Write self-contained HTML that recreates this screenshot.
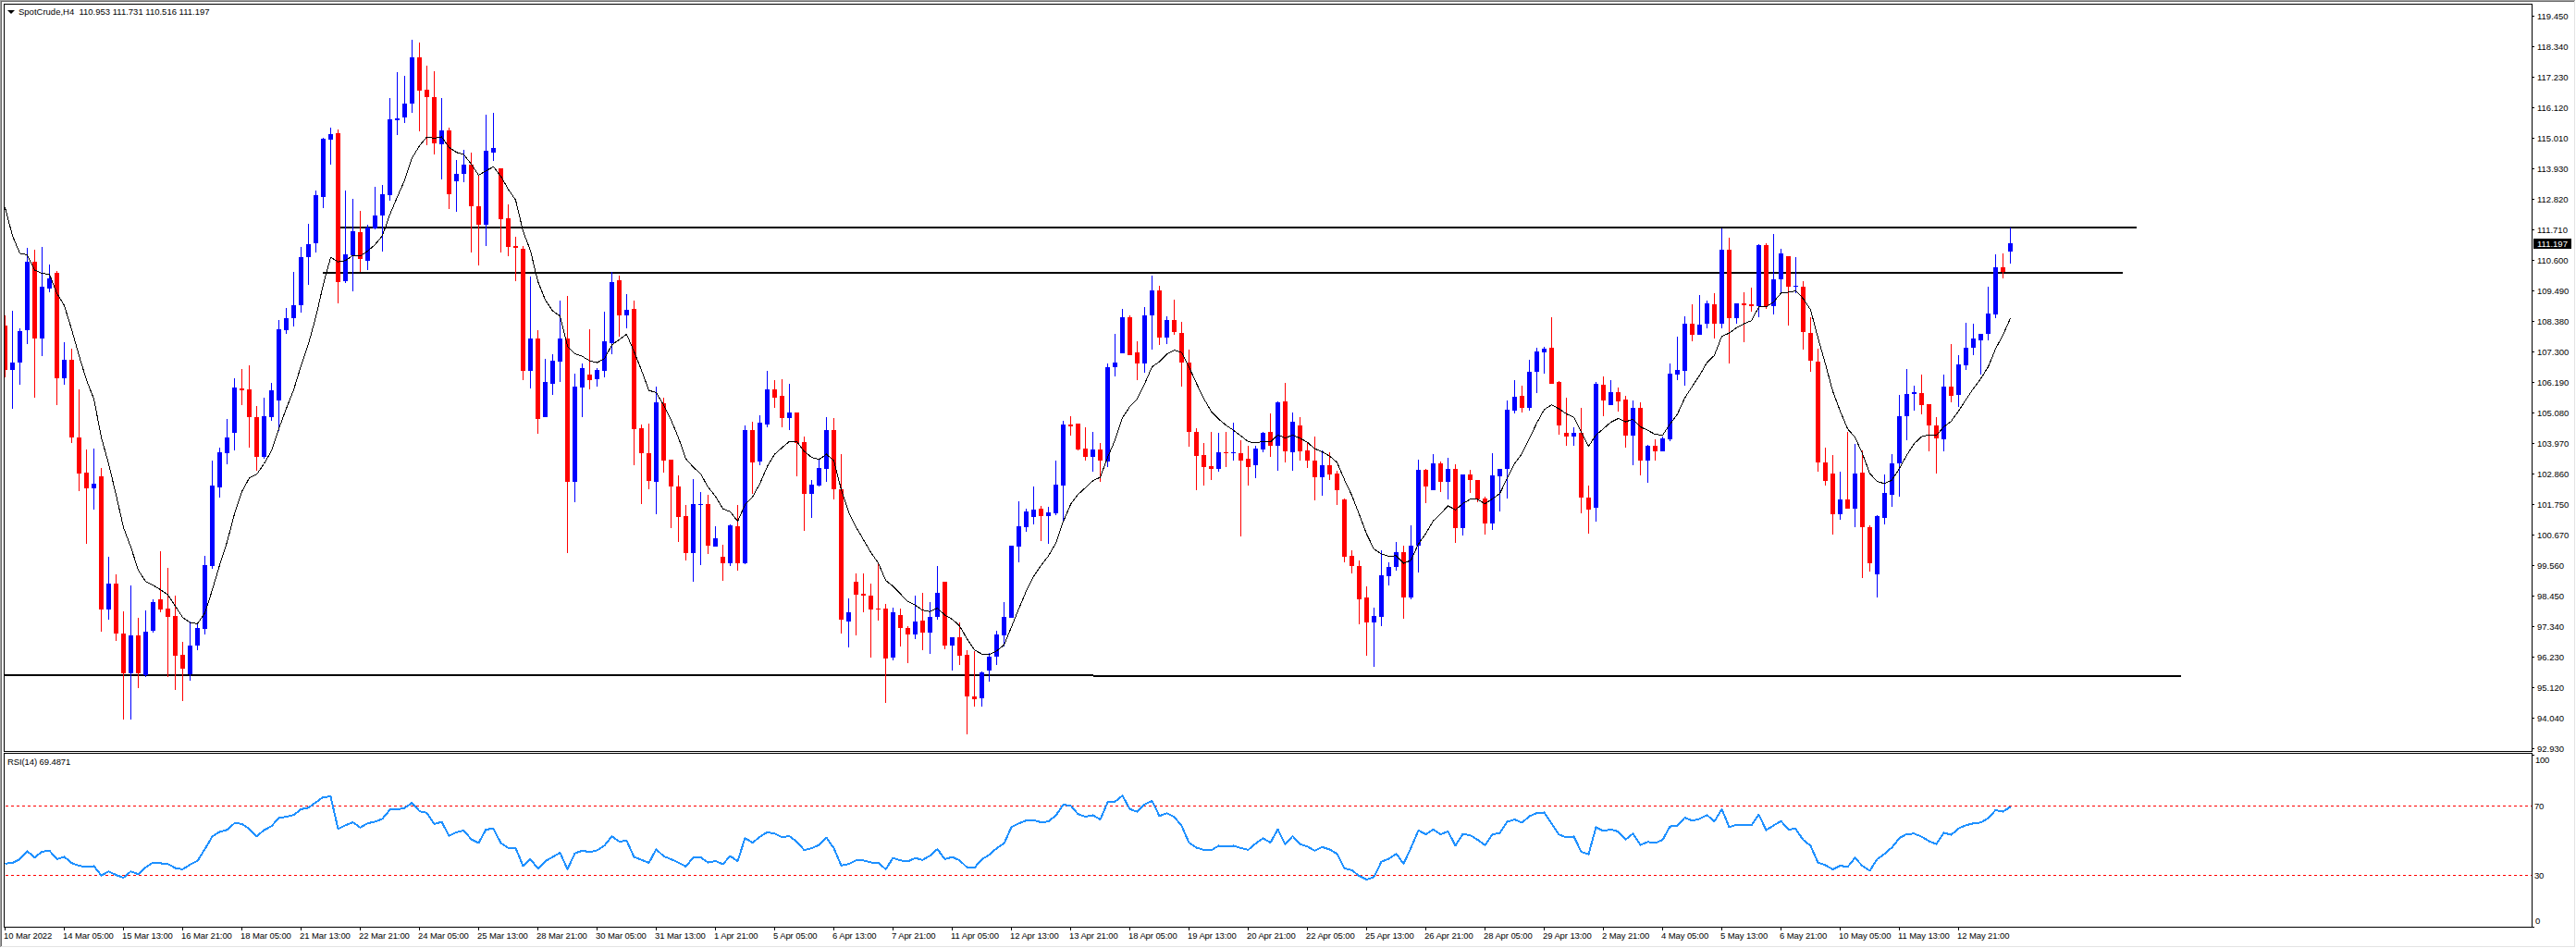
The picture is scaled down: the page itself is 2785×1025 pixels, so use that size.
<!DOCTYPE html>
<html><head><meta charset="utf-8"><style>
html,body{margin:0;padding:0;background:#fff;}
body{width:2785px;height:1025px;position:relative;overflow:hidden;}
svg{position:absolute;left:0;top:0;}
.t{position:absolute;font-family:"Liberation Sans",sans-serif;line-height:0;white-space:nowrap;color:#000;}
.tri{position:absolute;left:8px;top:11px;width:0;height:0;border-left:4px solid transparent;border-right:4px solid transparent;border-top:4px solid #000;}
</style></head><body>
<svg width="2785" height="1025" shape-rendering="crispEdges">
<rect x="0" y="0" width="2784" height="1" fill="#a0a0a0"/>
<rect x="0" y="0" width="1" height="1024" fill="#a0a0a0"/>
<rect x="1" y="1" width="2782" height="1" fill="#696969"/>
<rect x="1" y="1" width="1" height="1022" fill="#696969"/>
<rect x="2783" y="1" width="1" height="1023" fill="#e3e3e3"/>
<rect x="1" y="1023" width="2783" height="1" fill="#e3e3e3"/>
<rect x="4" y="4" width="2734" height="1" fill="#000"/>
<rect x="4" y="812" width="2734" height="1" fill="#000"/>
<rect x="4" y="4" width="1" height="809" fill="#000"/>
<rect x="2737" y="4" width="1" height="809" fill="#000"/>
<rect x="4" y="814" width="2734" height="1" fill="#000"/>
<rect x="4" y="1002" width="2734" height="1" fill="#000"/>
<rect x="4" y="814" width="1" height="189" fill="#000"/>
<rect x="2737" y="814" width="1" height="189" fill="#000"/>
<rect x="2738" y="17" width="2" height="1" fill="#000"/>
<rect x="2738" y="50" width="2" height="1" fill="#000"/>
<rect x="2738" y="83" width="2" height="1" fill="#000"/>
<rect x="2738" y="116" width="2" height="1" fill="#000"/>
<rect x="2738" y="149" width="2" height="1" fill="#000"/>
<rect x="2738" y="182" width="2" height="1" fill="#000"/>
<rect x="2738" y="215" width="2" height="1" fill="#000"/>
<rect x="2738" y="248" width="2" height="1" fill="#000"/>
<rect x="2738" y="281" width="2" height="1" fill="#000"/>
<rect x="2738" y="314" width="2" height="1" fill="#000"/>
<rect x="2738" y="347" width="2" height="1" fill="#000"/>
<rect x="2738" y="380" width="2" height="1" fill="#000"/>
<rect x="2738" y="413" width="2" height="1" fill="#000"/>
<rect x="2738" y="446" width="2" height="1" fill="#000"/>
<rect x="2738" y="479" width="2" height="1" fill="#000"/>
<rect x="2738" y="512" width="2" height="1" fill="#000"/>
<rect x="2738" y="545" width="2" height="1" fill="#000"/>
<rect x="2738" y="578" width="2" height="1" fill="#000"/>
<rect x="2738" y="611" width="2" height="1" fill="#000"/>
<rect x="2738" y="644" width="2" height="1" fill="#000"/>
<rect x="2738" y="677" width="2" height="1" fill="#000"/>
<rect x="2738" y="710" width="2" height="1" fill="#000"/>
<rect x="2738" y="743" width="2" height="1" fill="#000"/>
<rect x="2738" y="776" width="2" height="1" fill="#000"/>
<rect x="2738" y="809" width="2" height="1" fill="#000"/>
<rect x="2738" y="816" width="2" height="1" fill="#000"/>
<rect x="2738" y="1002" width="2" height="1" fill="#000"/>
<rect x="5" y="1003" width="1" height="3" fill="#000"/>
<rect x="69" y="1003" width="1" height="3" fill="#000"/>
<rect x="133" y="1003" width="1" height="3" fill="#000"/>
<rect x="197" y="1003" width="1" height="3" fill="#000"/>
<rect x="261" y="1003" width="1" height="3" fill="#000"/>
<rect x="325" y="1003" width="1" height="3" fill="#000"/>
<rect x="389" y="1003" width="1" height="3" fill="#000"/>
<rect x="453" y="1003" width="1" height="3" fill="#000"/>
<rect x="517" y="1003" width="1" height="3" fill="#000"/>
<rect x="581" y="1003" width="1" height="3" fill="#000"/>
<rect x="645" y="1003" width="1" height="3" fill="#000"/>
<rect x="709" y="1003" width="1" height="3" fill="#000"/>
<rect x="773" y="1003" width="1" height="3" fill="#000"/>
<rect x="837" y="1003" width="1" height="3" fill="#000"/>
<rect x="901" y="1003" width="1" height="3" fill="#000"/>
<rect x="965" y="1003" width="1" height="3" fill="#000"/>
<rect x="1029" y="1003" width="1" height="3" fill="#000"/>
<rect x="1093" y="1003" width="1" height="3" fill="#000"/>
<rect x="1157" y="1003" width="1" height="3" fill="#000"/>
<rect x="1221" y="1003" width="1" height="3" fill="#000"/>
<rect x="1285" y="1003" width="1" height="3" fill="#000"/>
<rect x="1349" y="1003" width="1" height="3" fill="#000"/>
<rect x="1413" y="1003" width="1" height="3" fill="#000"/>
<rect x="1477" y="1003" width="1" height="3" fill="#000"/>
<rect x="1541" y="1003" width="1" height="3" fill="#000"/>
<rect x="1605" y="1003" width="1" height="3" fill="#000"/>
<rect x="1669" y="1003" width="1" height="3" fill="#000"/>
<rect x="1733" y="1003" width="1" height="3" fill="#000"/>
<rect x="1797" y="1003" width="1" height="3" fill="#000"/>
<rect x="1861" y="1003" width="1" height="3" fill="#000"/>
<rect x="1925" y="1003" width="1" height="3" fill="#000"/>
<rect x="1989" y="1003" width="1" height="3" fill="#000"/>
<rect x="2053" y="1003" width="1" height="3" fill="#000"/>
<rect x="2117" y="1003" width="1" height="3" fill="#000"/>
<line x1="6" y1="871.5" x2="2737" y2="871.5" stroke="#f00" stroke-width="1" stroke-dasharray="3 3"/>
<line x1="6" y1="946.5" x2="2737" y2="946.5" stroke="#f00" stroke-width="1" stroke-dasharray="3 3"/>
<rect x="364" y="245" width="1946" height="2" fill="#000"/>
<rect x="349" y="294" width="1946" height="2" fill="#000"/>
<rect x="5" y="729" width="1177" height="2" fill="#000"/>
<rect x="1182" y="730" width="1176" height="2" fill="#000"/>
<rect x="5" y="341" width="1" height="11" fill="#f00"/>
<rect x="5" y="400" width="1" height="8" fill="#f00"/>
<rect x="5" y="352" width="3" height="48" fill="#f00"/>
<rect x="13" y="336" width="1" height="56" fill="#00f"/>
<rect x="13" y="400" width="1" height="42" fill="#00f"/>
<rect x="11" y="392" width="5" height="8" fill="#00f"/>
<rect x="21" y="355" width="1" height="3" fill="#00f"/>
<rect x="21" y="392" width="1" height="24" fill="#00f"/>
<rect x="19" y="358" width="5" height="34" fill="#00f"/>
<rect x="29" y="268" width="1" height="15" fill="#00f"/>
<rect x="29" y="357" width="1" height="15" fill="#00f"/>
<rect x="27" y="283" width="5" height="74" fill="#00f"/>
<rect x="37" y="270" width="1" height="13" fill="#f00"/>
<rect x="37" y="366" width="1" height="64" fill="#f00"/>
<rect x="35" y="283" width="5" height="83" fill="#f00"/>
<rect x="45" y="267" width="1" height="43" fill="#00f"/>
<rect x="45" y="366" width="1" height="19" fill="#00f"/>
<rect x="43" y="310" width="5" height="56" fill="#00f"/>
<rect x="53" y="286" width="1" height="15" fill="#00f"/>
<rect x="53" y="312" width="1" height="4" fill="#00f"/>
<rect x="51" y="301" width="5" height="11" fill="#00f"/>
<rect x="61" y="293" width="1" height="2" fill="#f00"/>
<rect x="61" y="409" width="1" height="29" fill="#f00"/>
<rect x="59" y="295" width="5" height="114" fill="#f00"/>
<rect x="69" y="370" width="1" height="19" fill="#00f"/>
<rect x="69" y="409" width="1" height="7" fill="#00f"/>
<rect x="67" y="389" width="5" height="20" fill="#00f"/>
<rect x="77" y="377" width="1" height="12" fill="#f00"/>
<rect x="77" y="473" width="1" height="6" fill="#f00"/>
<rect x="75" y="389" width="5" height="84" fill="#f00"/>
<rect x="85" y="421" width="1" height="52" fill="#f00"/>
<rect x="85" y="512" width="1" height="19" fill="#f00"/>
<rect x="83" y="473" width="5" height="39" fill="#f00"/>
<rect x="93" y="486" width="1" height="25" fill="#f00"/>
<rect x="93" y="528" width="1" height="60" fill="#f00"/>
<rect x="91" y="511" width="5" height="17" fill="#f00"/>
<rect x="101" y="485" width="1" height="38" fill="#00f"/>
<rect x="101" y="528" width="1" height="23" fill="#00f"/>
<rect x="99" y="523" width="5" height="5" fill="#00f"/>
<rect x="109" y="506" width="1" height="9" fill="#f00"/>
<rect x="109" y="659" width="1" height="24" fill="#f00"/>
<rect x="107" y="515" width="5" height="144" fill="#f00"/>
<rect x="117" y="602" width="1" height="29" fill="#00f"/>
<rect x="117" y="659" width="1" height="11" fill="#00f"/>
<rect x="115" y="631" width="5" height="28" fill="#00f"/>
<rect x="125" y="621" width="1" height="10" fill="#f00"/>
<rect x="125" y="685" width="1" height="8" fill="#f00"/>
<rect x="123" y="631" width="5" height="54" fill="#f00"/>
<rect x="133" y="661" width="1" height="24" fill="#f00"/>
<rect x="133" y="728" width="1" height="50" fill="#f00"/>
<rect x="131" y="685" width="5" height="43" fill="#f00"/>
<rect x="141" y="633" width="1" height="54" fill="#00f"/>
<rect x="141" y="728" width="1" height="50" fill="#00f"/>
<rect x="139" y="687" width="5" height="41" fill="#00f"/>
<rect x="149" y="668" width="1" height="19" fill="#f00"/>
<rect x="149" y="728" width="1" height="16" fill="#f00"/>
<rect x="147" y="687" width="5" height="41" fill="#f00"/>
<rect x="157" y="660" width="1" height="23" fill="#00f"/>
<rect x="157" y="730" width="1" height="2" fill="#00f"/>
<rect x="155" y="683" width="5" height="47" fill="#00f"/>
<rect x="165" y="648" width="1" height="3" fill="#00f"/>
<rect x="165" y="682" width="1" height="2" fill="#00f"/>
<rect x="163" y="651" width="5" height="31" fill="#00f"/>
<rect x="173" y="596" width="1" height="52" fill="#f00"/>
<rect x="173" y="659" width="1" height="3" fill="#f00"/>
<rect x="171" y="648" width="5" height="11" fill="#f00"/>
<rect x="181" y="614" width="1" height="44" fill="#f00"/>
<rect x="181" y="667" width="1" height="65" fill="#f00"/>
<rect x="179" y="658" width="5" height="9" fill="#f00"/>
<rect x="189" y="644" width="1" height="22" fill="#f00"/>
<rect x="189" y="709" width="1" height="37" fill="#f00"/>
<rect x="187" y="666" width="5" height="43" fill="#f00"/>
<rect x="197" y="694" width="1" height="14" fill="#f00"/>
<rect x="197" y="723" width="1" height="35" fill="#f00"/>
<rect x="195" y="708" width="5" height="15" fill="#f00"/>
<rect x="205" y="672" width="1" height="26" fill="#00f"/>
<rect x="205" y="729" width="1" height="7" fill="#00f"/>
<rect x="203" y="698" width="5" height="31" fill="#00f"/>
<rect x="213" y="673" width="1" height="6" fill="#00f"/>
<rect x="213" y="698" width="1" height="5" fill="#00f"/>
<rect x="211" y="679" width="5" height="19" fill="#00f"/>
<rect x="221" y="601" width="1" height="10" fill="#00f"/>
<rect x="221" y="680" width="1" height="6" fill="#00f"/>
<rect x="219" y="611" width="5" height="69" fill="#00f"/>
<rect x="229" y="498" width="1" height="27" fill="#00f"/>
<rect x="229" y="612" width="1" height="3" fill="#00f"/>
<rect x="227" y="525" width="5" height="87" fill="#00f"/>
<rect x="237" y="484" width="1" height="5" fill="#00f"/>
<rect x="237" y="527" width="1" height="11" fill="#00f"/>
<rect x="235" y="489" width="5" height="38" fill="#00f"/>
<rect x="245" y="453" width="1" height="20" fill="#00f"/>
<rect x="245" y="490" width="1" height="12" fill="#00f"/>
<rect x="243" y="473" width="5" height="17" fill="#00f"/>
<rect x="253" y="409" width="1" height="10" fill="#00f"/>
<rect x="253" y="468" width="1" height="19" fill="#00f"/>
<rect x="251" y="419" width="5" height="49" fill="#00f"/>
<rect x="261" y="399" width="1" height="21" fill="#f00"/>
<rect x="261" y="422" width="1" height="16" fill="#f00"/>
<rect x="259" y="420" width="5" height="2" fill="#f00"/>
<rect x="269" y="395" width="1" height="26" fill="#f00"/>
<rect x="269" y="451" width="1" height="33" fill="#f00"/>
<rect x="267" y="421" width="5" height="30" fill="#f00"/>
<rect x="277" y="439" width="1" height="12" fill="#f00"/>
<rect x="277" y="494" width="1" height="15" fill="#f00"/>
<rect x="275" y="451" width="5" height="43" fill="#f00"/>
<rect x="285" y="430" width="1" height="20" fill="#00f"/>
<rect x="285" y="494" width="1" height="2" fill="#00f"/>
<rect x="283" y="450" width="5" height="44" fill="#00f"/>
<rect x="293" y="414" width="1" height="8" fill="#00f"/>
<rect x="293" y="451" width="1" height="4" fill="#00f"/>
<rect x="291" y="422" width="5" height="29" fill="#00f"/>
<rect x="301" y="346" width="1" height="10" fill="#00f"/>
<rect x="301" y="433" width="1" height="33" fill="#00f"/>
<rect x="299" y="356" width="5" height="77" fill="#00f"/>
<rect x="309" y="333" width="1" height="11" fill="#00f"/>
<rect x="309" y="357" width="1" height="4" fill="#00f"/>
<rect x="307" y="344" width="5" height="13" fill="#00f"/>
<rect x="317" y="294" width="1" height="36" fill="#00f"/>
<rect x="317" y="344" width="1" height="9" fill="#00f"/>
<rect x="315" y="330" width="5" height="14" fill="#00f"/>
<rect x="325" y="267" width="1" height="11" fill="#00f"/>
<rect x="325" y="330" width="1" height="8" fill="#00f"/>
<rect x="323" y="278" width="5" height="52" fill="#00f"/>
<rect x="333" y="242" width="1" height="22" fill="#00f"/>
<rect x="333" y="278" width="1" height="30" fill="#00f"/>
<rect x="331" y="264" width="5" height="14" fill="#00f"/>
<rect x="341" y="206" width="1" height="5" fill="#00f"/>
<rect x="341" y="263" width="1" height="10" fill="#00f"/>
<rect x="339" y="211" width="5" height="52" fill="#00f"/>
<rect x="349" y="149" width="1" height="1" fill="#00f"/>
<rect x="349" y="213" width="1" height="12" fill="#00f"/>
<rect x="347" y="150" width="5" height="63" fill="#00f"/>
<rect x="357" y="138" width="1" height="7" fill="#00f"/>
<rect x="357" y="151" width="1" height="27" fill="#00f"/>
<rect x="355" y="145" width="5" height="6" fill="#00f"/>
<rect x="365" y="140" width="1" height="4" fill="#f00"/>
<rect x="365" y="305" width="1" height="23" fill="#f00"/>
<rect x="363" y="144" width="5" height="161" fill="#f00"/>
<rect x="373" y="206" width="1" height="69" fill="#00f"/>
<rect x="373" y="304" width="1" height="2" fill="#00f"/>
<rect x="371" y="275" width="5" height="29" fill="#00f"/>
<rect x="381" y="215" width="1" height="35" fill="#00f"/>
<rect x="381" y="276" width="1" height="39" fill="#00f"/>
<rect x="379" y="250" width="5" height="26" fill="#00f"/>
<rect x="389" y="228" width="1" height="23" fill="#f00"/>
<rect x="389" y="280" width="1" height="14" fill="#f00"/>
<rect x="387" y="251" width="5" height="29" fill="#f00"/>
<rect x="397" y="243" width="1" height="3" fill="#00f"/>
<rect x="397" y="282" width="1" height="10" fill="#00f"/>
<rect x="395" y="246" width="5" height="36" fill="#00f"/>
<rect x="405" y="202" width="1" height="31" fill="#00f"/>
<rect x="405" y="247" width="1" height="1" fill="#00f"/>
<rect x="403" y="233" width="5" height="14" fill="#00f"/>
<rect x="413" y="200" width="1" height="10" fill="#00f"/>
<rect x="413" y="233" width="1" height="39" fill="#00f"/>
<rect x="411" y="210" width="5" height="23" fill="#00f"/>
<rect x="421" y="106" width="1" height="23" fill="#00f"/>
<rect x="421" y="211" width="1" height="6" fill="#00f"/>
<rect x="419" y="129" width="5" height="82" fill="#00f"/>
<rect x="429" y="78" width="1" height="50" fill="#00f"/>
<rect x="429" y="130" width="1" height="16" fill="#00f"/>
<rect x="427" y="128" width="5" height="2" fill="#00f"/>
<rect x="437" y="82" width="1" height="30" fill="#00f"/>
<rect x="437" y="127" width="1" height="6" fill="#00f"/>
<rect x="435" y="112" width="5" height="15" fill="#00f"/>
<rect x="445" y="43" width="1" height="19" fill="#00f"/>
<rect x="445" y="112" width="1" height="10" fill="#00f"/>
<rect x="443" y="62" width="5" height="50" fill="#00f"/>
<rect x="453" y="46" width="1" height="16" fill="#f00"/>
<rect x="453" y="98" width="1" height="44" fill="#f00"/>
<rect x="451" y="62" width="5" height="36" fill="#f00"/>
<rect x="461" y="71" width="1" height="26" fill="#f00"/>
<rect x="461" y="105" width="1" height="52" fill="#f00"/>
<rect x="459" y="97" width="5" height="8" fill="#f00"/>
<rect x="469" y="77" width="1" height="28" fill="#f00"/>
<rect x="469" y="155" width="1" height="12" fill="#f00"/>
<rect x="467" y="105" width="5" height="50" fill="#f00"/>
<rect x="477" y="106" width="1" height="35" fill="#00f"/>
<rect x="477" y="156" width="1" height="38" fill="#00f"/>
<rect x="475" y="141" width="5" height="15" fill="#00f"/>
<rect x="485" y="138" width="1" height="3" fill="#f00"/>
<rect x="485" y="210" width="1" height="16" fill="#f00"/>
<rect x="483" y="141" width="5" height="69" fill="#f00"/>
<rect x="493" y="173" width="1" height="15" fill="#00f"/>
<rect x="493" y="196" width="1" height="33" fill="#00f"/>
<rect x="491" y="188" width="5" height="8" fill="#00f"/>
<rect x="501" y="162" width="1" height="16" fill="#00f"/>
<rect x="501" y="188" width="1" height="9" fill="#00f"/>
<rect x="499" y="178" width="5" height="10" fill="#00f"/>
<rect x="509" y="165" width="1" height="13" fill="#f00"/>
<rect x="509" y="223" width="1" height="50" fill="#f00"/>
<rect x="507" y="178" width="5" height="45" fill="#f00"/>
<rect x="517" y="189" width="1" height="34" fill="#f00"/>
<rect x="517" y="243" width="1" height="44" fill="#f00"/>
<rect x="515" y="223" width="5" height="20" fill="#f00"/>
<rect x="525" y="124" width="1" height="39" fill="#00f"/>
<rect x="525" y="243" width="1" height="23" fill="#00f"/>
<rect x="523" y="163" width="5" height="80" fill="#00f"/>
<rect x="533" y="122" width="1" height="38" fill="#00f"/>
<rect x="533" y="165" width="1" height="9" fill="#00f"/>
<rect x="531" y="160" width="5" height="5" fill="#00f"/>
<rect x="541" y="237" width="1" height="36" fill="#f00"/>
<rect x="539" y="182" width="5" height="55" fill="#f00"/>
<rect x="549" y="221" width="1" height="15" fill="#f00"/>
<rect x="549" y="267" width="1" height="10" fill="#f00"/>
<rect x="547" y="236" width="5" height="31" fill="#f00"/>
<rect x="557" y="256" width="1" height="10" fill="#f00"/>
<rect x="557" y="268" width="1" height="36" fill="#f00"/>
<rect x="555" y="266" width="5" height="2" fill="#f00"/>
<rect x="565" y="266" width="1" height="3" fill="#f00"/>
<rect x="565" y="401" width="1" height="10" fill="#f00"/>
<rect x="563" y="269" width="5" height="132" fill="#f00"/>
<rect x="573" y="299" width="1" height="67" fill="#00f"/>
<rect x="573" y="401" width="1" height="19" fill="#00f"/>
<rect x="571" y="366" width="5" height="35" fill="#00f"/>
<rect x="581" y="357" width="1" height="9" fill="#f00"/>
<rect x="581" y="453" width="1" height="16" fill="#f00"/>
<rect x="579" y="366" width="5" height="87" fill="#f00"/>
<rect x="589" y="388" width="1" height="25" fill="#00f"/>
<rect x="587" y="413" width="5" height="38" fill="#00f"/>
<rect x="597" y="383" width="1" height="7" fill="#00f"/>
<rect x="597" y="415" width="1" height="12" fill="#00f"/>
<rect x="595" y="390" width="5" height="25" fill="#00f"/>
<rect x="605" y="325" width="1" height="41" fill="#00f"/>
<rect x="605" y="391" width="1" height="22" fill="#00f"/>
<rect x="603" y="366" width="5" height="25" fill="#00f"/>
<rect x="613" y="320" width="1" height="46" fill="#f00"/>
<rect x="613" y="521" width="1" height="77" fill="#f00"/>
<rect x="611" y="366" width="5" height="155" fill="#f00"/>
<rect x="621" y="404" width="1" height="14" fill="#00f"/>
<rect x="621" y="521" width="1" height="22" fill="#00f"/>
<rect x="619" y="418" width="5" height="103" fill="#00f"/>
<rect x="629" y="393" width="1" height="5" fill="#00f"/>
<rect x="629" y="419" width="1" height="32" fill="#00f"/>
<rect x="627" y="398" width="5" height="21" fill="#00f"/>
<rect x="637" y="356" width="1" height="49" fill="#f00"/>
<rect x="637" y="411" width="1" height="10" fill="#f00"/>
<rect x="635" y="405" width="5" height="6" fill="#f00"/>
<rect x="645" y="398" width="1" height="2" fill="#00f"/>
<rect x="645" y="410" width="1" height="8" fill="#00f"/>
<rect x="643" y="400" width="5" height="10" fill="#00f"/>
<rect x="653" y="337" width="1" height="32" fill="#00f"/>
<rect x="653" y="401" width="1" height="7" fill="#00f"/>
<rect x="651" y="369" width="5" height="32" fill="#00f"/>
<rect x="661" y="294" width="1" height="11" fill="#00f"/>
<rect x="661" y="371" width="1" height="12" fill="#00f"/>
<rect x="659" y="305" width="5" height="66" fill="#00f"/>
<rect x="669" y="298" width="1" height="5" fill="#f00"/>
<rect x="669" y="341" width="1" height="23" fill="#f00"/>
<rect x="667" y="303" width="5" height="38" fill="#f00"/>
<rect x="677" y="318" width="1" height="17" fill="#00f"/>
<rect x="677" y="341" width="1" height="14" fill="#00f"/>
<rect x="675" y="335" width="5" height="6" fill="#00f"/>
<rect x="685" y="325" width="1" height="9" fill="#f00"/>
<rect x="685" y="464" width="1" height="39" fill="#f00"/>
<rect x="683" y="334" width="5" height="130" fill="#f00"/>
<rect x="693" y="459" width="1" height="4" fill="#f00"/>
<rect x="693" y="490" width="1" height="55" fill="#f00"/>
<rect x="691" y="463" width="5" height="27" fill="#f00"/>
<rect x="701" y="458" width="1" height="32" fill="#f00"/>
<rect x="701" y="520" width="1" height="9" fill="#f00"/>
<rect x="699" y="490" width="5" height="30" fill="#f00"/>
<rect x="709" y="418" width="1" height="17" fill="#00f"/>
<rect x="709" y="521" width="1" height="35" fill="#00f"/>
<rect x="707" y="435" width="5" height="86" fill="#00f"/>
<rect x="717" y="430" width="1" height="6" fill="#f00"/>
<rect x="717" y="498" width="1" height="13" fill="#f00"/>
<rect x="715" y="436" width="5" height="62" fill="#f00"/>
<rect x="725" y="526" width="1" height="45" fill="#f00"/>
<rect x="723" y="497" width="5" height="29" fill="#f00"/>
<rect x="733" y="514" width="1" height="12" fill="#f00"/>
<rect x="733" y="559" width="1" height="27" fill="#f00"/>
<rect x="731" y="526" width="5" height="33" fill="#f00"/>
<rect x="741" y="546" width="1" height="12" fill="#f00"/>
<rect x="741" y="598" width="1" height="8" fill="#f00"/>
<rect x="739" y="558" width="5" height="40" fill="#f00"/>
<rect x="749" y="518" width="1" height="27" fill="#00f"/>
<rect x="749" y="598" width="1" height="31" fill="#00f"/>
<rect x="747" y="545" width="5" height="53" fill="#00f"/>
<rect x="757" y="532" width="1" height="13" fill="#00f"/>
<rect x="757" y="546" width="1" height="65" fill="#00f"/>
<rect x="755" y="545" width="5" height="1" fill="#00f"/>
<rect x="765" y="535" width="1" height="10" fill="#f00"/>
<rect x="765" y="590" width="1" height="9" fill="#f00"/>
<rect x="763" y="545" width="5" height="45" fill="#f00"/>
<rect x="773" y="569" width="1" height="13" fill="#00f"/>
<rect x="771" y="582" width="5" height="9" fill="#00f"/>
<rect x="781" y="589" width="1" height="13" fill="#f00"/>
<rect x="781" y="609" width="1" height="19" fill="#f00"/>
<rect x="779" y="602" width="5" height="7" fill="#f00"/>
<rect x="789" y="567" width="1" height="1" fill="#00f"/>
<rect x="789" y="609" width="1" height="3" fill="#00f"/>
<rect x="787" y="568" width="5" height="41" fill="#00f"/>
<rect x="797" y="546" width="1" height="23" fill="#f00"/>
<rect x="797" y="609" width="1" height="8" fill="#f00"/>
<rect x="795" y="569" width="5" height="40" fill="#f00"/>
<rect x="805" y="460" width="1" height="5" fill="#00f"/>
<rect x="805" y="609" width="1" height="1" fill="#00f"/>
<rect x="803" y="465" width="5" height="144" fill="#00f"/>
<rect x="813" y="456" width="1" height="9" fill="#f00"/>
<rect x="813" y="500" width="1" height="34" fill="#f00"/>
<rect x="811" y="465" width="5" height="35" fill="#f00"/>
<rect x="821" y="449" width="1" height="8" fill="#00f"/>
<rect x="821" y="499" width="1" height="4" fill="#00f"/>
<rect x="819" y="457" width="5" height="42" fill="#00f"/>
<rect x="829" y="401" width="1" height="20" fill="#00f"/>
<rect x="829" y="459" width="1" height="3" fill="#00f"/>
<rect x="827" y="421" width="5" height="38" fill="#00f"/>
<rect x="837" y="411" width="1" height="10" fill="#f00"/>
<rect x="837" y="430" width="1" height="11" fill="#f00"/>
<rect x="835" y="421" width="5" height="9" fill="#f00"/>
<rect x="845" y="410" width="1" height="18" fill="#f00"/>
<rect x="845" y="452" width="1" height="10" fill="#f00"/>
<rect x="843" y="428" width="5" height="24" fill="#f00"/>
<rect x="853" y="415" width="1" height="31" fill="#00f"/>
<rect x="853" y="452" width="1" height="13" fill="#00f"/>
<rect x="851" y="446" width="5" height="6" fill="#00f"/>
<rect x="861" y="479" width="1" height="36" fill="#f00"/>
<rect x="859" y="446" width="5" height="33" fill="#f00"/>
<rect x="869" y="472" width="1" height="6" fill="#f00"/>
<rect x="869" y="534" width="1" height="40" fill="#f00"/>
<rect x="867" y="478" width="5" height="56" fill="#f00"/>
<rect x="877" y="519" width="1" height="5" fill="#00f"/>
<rect x="877" y="534" width="1" height="26" fill="#00f"/>
<rect x="875" y="524" width="5" height="10" fill="#00f"/>
<rect x="885" y="496" width="1" height="10" fill="#00f"/>
<rect x="885" y="525" width="1" height="1" fill="#00f"/>
<rect x="883" y="506" width="5" height="19" fill="#00f"/>
<rect x="893" y="451" width="1" height="14" fill="#00f"/>
<rect x="893" y="507" width="1" height="14" fill="#00f"/>
<rect x="891" y="465" width="5" height="42" fill="#00f"/>
<rect x="901" y="452" width="1" height="13" fill="#f00"/>
<rect x="901" y="529" width="1" height="11" fill="#f00"/>
<rect x="899" y="465" width="5" height="64" fill="#f00"/>
<rect x="909" y="491" width="1" height="38" fill="#f00"/>
<rect x="909" y="670" width="1" height="15" fill="#f00"/>
<rect x="907" y="529" width="5" height="141" fill="#f00"/>
<rect x="917" y="647" width="1" height="15" fill="#00f"/>
<rect x="917" y="672" width="1" height="28" fill="#00f"/>
<rect x="915" y="662" width="5" height="10" fill="#00f"/>
<rect x="925" y="620" width="1" height="9" fill="#f00"/>
<rect x="925" y="643" width="1" height="44" fill="#f00"/>
<rect x="923" y="629" width="5" height="14" fill="#f00"/>
<rect x="933" y="620" width="1" height="22" fill="#f00"/>
<rect x="933" y="644" width="1" height="18" fill="#f00"/>
<rect x="931" y="642" width="5" height="2" fill="#f00"/>
<rect x="941" y="631" width="1" height="13" fill="#f00"/>
<rect x="941" y="659" width="1" height="52" fill="#f00"/>
<rect x="939" y="644" width="5" height="15" fill="#f00"/>
<rect x="949" y="610" width="1" height="48" fill="#f00"/>
<rect x="949" y="659" width="1" height="12" fill="#f00"/>
<rect x="947" y="658" width="5" height="1" fill="#f00"/>
<rect x="957" y="653" width="1" height="5" fill="#f00"/>
<rect x="957" y="712" width="1" height="48" fill="#f00"/>
<rect x="955" y="658" width="5" height="54" fill="#f00"/>
<rect x="965" y="657" width="1" height="5" fill="#00f"/>
<rect x="965" y="711" width="1" height="3" fill="#00f"/>
<rect x="963" y="662" width="5" height="49" fill="#00f"/>
<rect x="973" y="658" width="1" height="7" fill="#f00"/>
<rect x="973" y="679" width="1" height="20" fill="#f00"/>
<rect x="971" y="665" width="5" height="14" fill="#f00"/>
<rect x="981" y="677" width="1" height="2" fill="#f00"/>
<rect x="981" y="686" width="1" height="31" fill="#f00"/>
<rect x="979" y="679" width="5" height="7" fill="#f00"/>
<rect x="989" y="644" width="1" height="28" fill="#00f"/>
<rect x="989" y="686" width="1" height="5" fill="#00f"/>
<rect x="987" y="672" width="5" height="14" fill="#00f"/>
<rect x="997" y="641" width="1" height="30" fill="#f00"/>
<rect x="997" y="684" width="1" height="19" fill="#f00"/>
<rect x="995" y="671" width="5" height="13" fill="#f00"/>
<rect x="1005" y="651" width="1" height="16" fill="#00f"/>
<rect x="1005" y="684" width="1" height="23" fill="#00f"/>
<rect x="1003" y="667" width="5" height="17" fill="#00f"/>
<rect x="1013" y="612" width="1" height="29" fill="#00f"/>
<rect x="1013" y="667" width="1" height="3" fill="#00f"/>
<rect x="1011" y="641" width="5" height="26" fill="#00f"/>
<rect x="1021" y="698" width="1" height="4" fill="#f00"/>
<rect x="1019" y="629" width="5" height="69" fill="#f00"/>
<rect x="1029" y="698" width="1" height="27" fill="#00f"/>
<rect x="1027" y="689" width="5" height="9" fill="#00f"/>
<rect x="1037" y="673" width="1" height="16" fill="#f00"/>
<rect x="1037" y="709" width="1" height="10" fill="#f00"/>
<rect x="1035" y="689" width="5" height="20" fill="#f00"/>
<rect x="1045" y="703" width="1" height="5" fill="#f00"/>
<rect x="1045" y="753" width="1" height="41" fill="#f00"/>
<rect x="1043" y="708" width="5" height="45" fill="#f00"/>
<rect x="1053" y="704" width="1" height="49" fill="#f00"/>
<rect x="1053" y="756" width="1" height="8" fill="#f00"/>
<rect x="1051" y="753" width="5" height="3" fill="#f00"/>
<rect x="1061" y="726" width="1" height="1" fill="#00f"/>
<rect x="1061" y="755" width="1" height="9" fill="#00f"/>
<rect x="1059" y="727" width="5" height="28" fill="#00f"/>
<rect x="1069" y="706" width="1" height="4" fill="#00f"/>
<rect x="1069" y="725" width="1" height="12" fill="#00f"/>
<rect x="1067" y="710" width="5" height="15" fill="#00f"/>
<rect x="1077" y="682" width="1" height="4" fill="#00f"/>
<rect x="1077" y="710" width="1" height="9" fill="#00f"/>
<rect x="1075" y="686" width="5" height="24" fill="#00f"/>
<rect x="1085" y="651" width="1" height="16" fill="#00f"/>
<rect x="1085" y="687" width="1" height="12" fill="#00f"/>
<rect x="1083" y="667" width="5" height="20" fill="#00f"/>
<rect x="1091" y="590" width="5" height="78" fill="#00f"/>
<rect x="1101" y="542" width="1" height="27" fill="#00f"/>
<rect x="1101" y="591" width="1" height="17" fill="#00f"/>
<rect x="1099" y="569" width="5" height="22" fill="#00f"/>
<rect x="1109" y="550" width="1" height="3" fill="#00f"/>
<rect x="1109" y="570" width="1" height="5" fill="#00f"/>
<rect x="1107" y="553" width="5" height="17" fill="#00f"/>
<rect x="1117" y="526" width="1" height="25" fill="#00f"/>
<rect x="1117" y="559" width="1" height="8" fill="#00f"/>
<rect x="1115" y="551" width="5" height="8" fill="#00f"/>
<rect x="1125" y="547" width="1" height="3" fill="#f00"/>
<rect x="1125" y="558" width="1" height="27" fill="#f00"/>
<rect x="1123" y="550" width="5" height="8" fill="#f00"/>
<rect x="1133" y="548" width="1" height="6" fill="#00f"/>
<rect x="1133" y="558" width="1" height="30" fill="#00f"/>
<rect x="1131" y="554" width="5" height="4" fill="#00f"/>
<rect x="1141" y="498" width="1" height="26" fill="#00f"/>
<rect x="1141" y="555" width="1" height="2" fill="#00f"/>
<rect x="1139" y="524" width="5" height="31" fill="#00f"/>
<rect x="1149" y="455" width="1" height="4" fill="#00f"/>
<rect x="1149" y="525" width="1" height="38" fill="#00f"/>
<rect x="1147" y="459" width="5" height="66" fill="#00f"/>
<rect x="1157" y="450" width="1" height="9" fill="#f00"/>
<rect x="1157" y="461" width="1" height="10" fill="#f00"/>
<rect x="1155" y="459" width="5" height="2" fill="#f00"/>
<rect x="1165" y="486" width="1" height="1" fill="#f00"/>
<rect x="1163" y="458" width="5" height="28" fill="#f00"/>
<rect x="1173" y="462" width="1" height="23" fill="#f00"/>
<rect x="1173" y="494" width="1" height="4" fill="#f00"/>
<rect x="1171" y="485" width="5" height="9" fill="#f00"/>
<rect x="1181" y="467" width="1" height="19" fill="#00f"/>
<rect x="1181" y="494" width="1" height="16" fill="#00f"/>
<rect x="1179" y="486" width="5" height="8" fill="#00f"/>
<rect x="1189" y="479" width="1" height="7" fill="#f00"/>
<rect x="1189" y="498" width="1" height="23" fill="#f00"/>
<rect x="1187" y="486" width="5" height="12" fill="#f00"/>
<rect x="1197" y="393" width="1" height="4" fill="#00f"/>
<rect x="1197" y="499" width="1" height="6" fill="#00f"/>
<rect x="1195" y="397" width="5" height="102" fill="#00f"/>
<rect x="1205" y="361" width="1" height="31" fill="#00f"/>
<rect x="1205" y="397" width="1" height="10" fill="#00f"/>
<rect x="1203" y="392" width="5" height="5" fill="#00f"/>
<rect x="1213" y="334" width="1" height="9" fill="#00f"/>
<rect x="1211" y="343" width="5" height="39" fill="#00f"/>
<rect x="1221" y="341" width="1" height="2" fill="#f00"/>
<rect x="1219" y="343" width="5" height="41" fill="#f00"/>
<rect x="1229" y="369" width="1" height="12" fill="#f00"/>
<rect x="1229" y="393" width="1" height="18" fill="#f00"/>
<rect x="1227" y="381" width="5" height="12" fill="#f00"/>
<rect x="1237" y="332" width="1" height="9" fill="#00f"/>
<rect x="1237" y="393" width="1" height="10" fill="#00f"/>
<rect x="1235" y="341" width="5" height="52" fill="#00f"/>
<rect x="1245" y="298" width="1" height="16" fill="#00f"/>
<rect x="1245" y="341" width="1" height="37" fill="#00f"/>
<rect x="1243" y="314" width="5" height="27" fill="#00f"/>
<rect x="1253" y="309" width="1" height="5" fill="#f00"/>
<rect x="1253" y="365" width="1" height="8" fill="#f00"/>
<rect x="1251" y="314" width="5" height="51" fill="#f00"/>
<rect x="1261" y="342" width="1" height="4" fill="#00f"/>
<rect x="1261" y="365" width="1" height="7" fill="#00f"/>
<rect x="1259" y="346" width="5" height="19" fill="#00f"/>
<rect x="1269" y="324" width="1" height="22" fill="#f00"/>
<rect x="1269" y="359" width="1" height="3" fill="#f00"/>
<rect x="1267" y="346" width="5" height="13" fill="#f00"/>
<rect x="1277" y="348" width="1" height="12" fill="#f00"/>
<rect x="1277" y="392" width="1" height="26" fill="#f00"/>
<rect x="1275" y="360" width="5" height="32" fill="#f00"/>
<rect x="1285" y="378" width="1" height="14" fill="#f00"/>
<rect x="1285" y="467" width="1" height="16" fill="#f00"/>
<rect x="1283" y="392" width="5" height="75" fill="#f00"/>
<rect x="1293" y="463" width="1" height="4" fill="#f00"/>
<rect x="1293" y="493" width="1" height="37" fill="#f00"/>
<rect x="1291" y="467" width="5" height="26" fill="#f00"/>
<rect x="1301" y="479" width="1" height="13" fill="#f00"/>
<rect x="1301" y="505" width="1" height="20" fill="#f00"/>
<rect x="1299" y="492" width="5" height="13" fill="#f00"/>
<rect x="1309" y="467" width="1" height="37" fill="#f00"/>
<rect x="1309" y="507" width="1" height="12" fill="#f00"/>
<rect x="1307" y="504" width="5" height="3" fill="#f00"/>
<rect x="1317" y="468" width="1" height="21" fill="#00f"/>
<rect x="1317" y="507" width="1" height="3" fill="#00f"/>
<rect x="1315" y="489" width="5" height="18" fill="#00f"/>
<rect x="1325" y="467" width="1" height="22" fill="#f00"/>
<rect x="1325" y="490" width="1" height="15" fill="#f00"/>
<rect x="1323" y="489" width="5" height="1" fill="#f00"/>
<rect x="1333" y="457" width="1" height="32" fill="#00f"/>
<rect x="1333" y="490" width="1" height="8" fill="#00f"/>
<rect x="1331" y="489" width="5" height="1" fill="#00f"/>
<rect x="1341" y="476" width="1" height="14" fill="#f00"/>
<rect x="1341" y="498" width="1" height="82" fill="#f00"/>
<rect x="1339" y="490" width="5" height="8" fill="#f00"/>
<rect x="1349" y="482" width="1" height="14" fill="#f00"/>
<rect x="1349" y="505" width="1" height="20" fill="#f00"/>
<rect x="1347" y="496" width="5" height="9" fill="#f00"/>
<rect x="1357" y="482" width="1" height="3" fill="#00f"/>
<rect x="1357" y="503" width="1" height="14" fill="#00f"/>
<rect x="1355" y="485" width="5" height="18" fill="#00f"/>
<rect x="1365" y="467" width="1" height="1" fill="#00f"/>
<rect x="1365" y="486" width="1" height="3" fill="#00f"/>
<rect x="1363" y="468" width="5" height="18" fill="#00f"/>
<rect x="1373" y="447" width="1" height="20" fill="#f00"/>
<rect x="1373" y="482" width="1" height="12" fill="#f00"/>
<rect x="1371" y="467" width="5" height="15" fill="#f00"/>
<rect x="1381" y="434" width="1" height="1" fill="#00f"/>
<rect x="1381" y="482" width="1" height="27" fill="#00f"/>
<rect x="1379" y="435" width="5" height="47" fill="#00f"/>
<rect x="1389" y="414" width="1" height="20" fill="#f00"/>
<rect x="1389" y="488" width="1" height="12" fill="#f00"/>
<rect x="1387" y="434" width="5" height="54" fill="#f00"/>
<rect x="1397" y="446" width="1" height="10" fill="#00f"/>
<rect x="1397" y="489" width="1" height="20" fill="#00f"/>
<rect x="1395" y="456" width="5" height="33" fill="#00f"/>
<rect x="1405" y="451" width="1" height="9" fill="#f00"/>
<rect x="1405" y="488" width="1" height="10" fill="#f00"/>
<rect x="1403" y="460" width="5" height="28" fill="#f00"/>
<rect x="1413" y="479" width="1" height="8" fill="#f00"/>
<rect x="1413" y="498" width="1" height="8" fill="#f00"/>
<rect x="1411" y="487" width="5" height="11" fill="#f00"/>
<rect x="1421" y="472" width="1" height="26" fill="#f00"/>
<rect x="1421" y="516" width="1" height="25" fill="#f00"/>
<rect x="1419" y="498" width="5" height="18" fill="#f00"/>
<rect x="1429" y="487" width="1" height="16" fill="#00f"/>
<rect x="1429" y="516" width="1" height="20" fill="#00f"/>
<rect x="1427" y="503" width="5" height="13" fill="#00f"/>
<rect x="1437" y="489" width="1" height="14" fill="#f00"/>
<rect x="1437" y="513" width="1" height="6" fill="#f00"/>
<rect x="1435" y="503" width="5" height="10" fill="#f00"/>
<rect x="1445" y="509" width="1" height="3" fill="#f00"/>
<rect x="1445" y="530" width="1" height="16" fill="#f00"/>
<rect x="1443" y="512" width="5" height="18" fill="#f00"/>
<rect x="1453" y="539" width="1" height="1" fill="#f00"/>
<rect x="1453" y="602" width="1" height="6" fill="#f00"/>
<rect x="1451" y="540" width="5" height="62" fill="#f00"/>
<rect x="1461" y="595" width="1" height="6" fill="#f00"/>
<rect x="1461" y="612" width="1" height="8" fill="#f00"/>
<rect x="1459" y="601" width="5" height="11" fill="#f00"/>
<rect x="1469" y="606" width="1" height="6" fill="#f00"/>
<rect x="1469" y="648" width="1" height="27" fill="#f00"/>
<rect x="1467" y="612" width="5" height="36" fill="#f00"/>
<rect x="1477" y="634" width="1" height="12" fill="#f00"/>
<rect x="1477" y="673" width="1" height="36" fill="#f00"/>
<rect x="1475" y="646" width="5" height="27" fill="#f00"/>
<rect x="1485" y="657" width="1" height="9" fill="#00f"/>
<rect x="1485" y="673" width="1" height="48" fill="#00f"/>
<rect x="1483" y="666" width="5" height="7" fill="#00f"/>
<rect x="1493" y="595" width="1" height="27" fill="#00f"/>
<rect x="1493" y="667" width="1" height="10" fill="#00f"/>
<rect x="1491" y="622" width="5" height="45" fill="#00f"/>
<rect x="1501" y="608" width="1" height="5" fill="#00f"/>
<rect x="1501" y="623" width="1" height="10" fill="#00f"/>
<rect x="1499" y="613" width="5" height="10" fill="#00f"/>
<rect x="1509" y="586" width="1" height="11" fill="#00f"/>
<rect x="1509" y="613" width="1" height="4" fill="#00f"/>
<rect x="1507" y="597" width="5" height="16" fill="#00f"/>
<rect x="1517" y="590" width="1" height="7" fill="#f00"/>
<rect x="1517" y="646" width="1" height="23" fill="#f00"/>
<rect x="1515" y="597" width="5" height="49" fill="#f00"/>
<rect x="1525" y="568" width="1" height="22" fill="#00f"/>
<rect x="1525" y="646" width="1" height="2" fill="#00f"/>
<rect x="1523" y="590" width="5" height="56" fill="#00f"/>
<rect x="1533" y="497" width="1" height="11" fill="#00f"/>
<rect x="1533" y="590" width="1" height="29" fill="#00f"/>
<rect x="1531" y="508" width="5" height="82" fill="#00f"/>
<rect x="1541" y="507" width="1" height="1" fill="#f00"/>
<rect x="1541" y="526" width="1" height="18" fill="#f00"/>
<rect x="1539" y="508" width="5" height="18" fill="#f00"/>
<rect x="1549" y="491" width="1" height="10" fill="#00f"/>
<rect x="1547" y="501" width="5" height="29" fill="#00f"/>
<rect x="1557" y="499" width="1" height="2" fill="#f00"/>
<rect x="1557" y="521" width="1" height="11" fill="#f00"/>
<rect x="1555" y="501" width="5" height="20" fill="#f00"/>
<rect x="1565" y="495" width="1" height="12" fill="#00f"/>
<rect x="1565" y="521" width="1" height="19" fill="#00f"/>
<rect x="1563" y="507" width="5" height="14" fill="#00f"/>
<rect x="1573" y="502" width="1" height="5" fill="#f00"/>
<rect x="1573" y="571" width="1" height="16" fill="#f00"/>
<rect x="1571" y="507" width="5" height="64" fill="#f00"/>
<rect x="1581" y="571" width="1" height="8" fill="#00f"/>
<rect x="1579" y="513" width="5" height="58" fill="#00f"/>
<rect x="1589" y="508" width="1" height="5" fill="#f00"/>
<rect x="1589" y="519" width="1" height="14" fill="#f00"/>
<rect x="1587" y="513" width="5" height="6" fill="#f00"/>
<rect x="1597" y="540" width="1" height="3" fill="#f00"/>
<rect x="1595" y="519" width="5" height="21" fill="#f00"/>
<rect x="1605" y="537" width="1" height="2" fill="#f00"/>
<rect x="1605" y="566" width="1" height="12" fill="#f00"/>
<rect x="1603" y="539" width="5" height="27" fill="#f00"/>
<rect x="1613" y="490" width="1" height="24" fill="#00f"/>
<rect x="1613" y="566" width="1" height="7" fill="#00f"/>
<rect x="1611" y="514" width="5" height="52" fill="#00f"/>
<rect x="1621" y="515" width="1" height="38" fill="#00f"/>
<rect x="1619" y="507" width="5" height="8" fill="#00f"/>
<rect x="1629" y="433" width="1" height="10" fill="#00f"/>
<rect x="1629" y="507" width="1" height="32" fill="#00f"/>
<rect x="1627" y="443" width="5" height="64" fill="#00f"/>
<rect x="1637" y="411" width="1" height="18" fill="#00f"/>
<rect x="1637" y="444" width="1" height="3" fill="#00f"/>
<rect x="1635" y="429" width="5" height="15" fill="#00f"/>
<rect x="1645" y="417" width="1" height="11" fill="#f00"/>
<rect x="1645" y="441" width="1" height="5" fill="#f00"/>
<rect x="1643" y="428" width="5" height="13" fill="#f00"/>
<rect x="1653" y="389" width="1" height="13" fill="#00f"/>
<rect x="1653" y="441" width="1" height="3" fill="#00f"/>
<rect x="1651" y="402" width="5" height="39" fill="#00f"/>
<rect x="1661" y="376" width="1" height="4" fill="#00f"/>
<rect x="1661" y="402" width="1" height="23" fill="#00f"/>
<rect x="1659" y="380" width="5" height="22" fill="#00f"/>
<rect x="1669" y="375" width="1" height="2" fill="#00f"/>
<rect x="1669" y="381" width="1" height="23" fill="#00f"/>
<rect x="1667" y="377" width="5" height="4" fill="#00f"/>
<rect x="1677" y="343" width="1" height="33" fill="#f00"/>
<rect x="1675" y="376" width="5" height="39" fill="#f00"/>
<rect x="1685" y="412" width="1" height="1" fill="#f00"/>
<rect x="1685" y="460" width="1" height="10" fill="#f00"/>
<rect x="1683" y="413" width="5" height="47" fill="#f00"/>
<rect x="1693" y="430" width="1" height="38" fill="#f00"/>
<rect x="1693" y="472" width="1" height="10" fill="#f00"/>
<rect x="1691" y="468" width="5" height="4" fill="#f00"/>
<rect x="1701" y="462" width="1" height="6" fill="#00f"/>
<rect x="1701" y="472" width="1" height="10" fill="#00f"/>
<rect x="1699" y="468" width="5" height="4" fill="#00f"/>
<rect x="1709" y="441" width="1" height="27" fill="#f00"/>
<rect x="1709" y="538" width="1" height="17" fill="#f00"/>
<rect x="1707" y="468" width="5" height="70" fill="#f00"/>
<rect x="1717" y="525" width="1" height="13" fill="#f00"/>
<rect x="1717" y="551" width="1" height="26" fill="#f00"/>
<rect x="1715" y="538" width="5" height="13" fill="#f00"/>
<rect x="1725" y="413" width="1" height="2" fill="#00f"/>
<rect x="1725" y="549" width="1" height="15" fill="#00f"/>
<rect x="1723" y="415" width="5" height="134" fill="#00f"/>
<rect x="1733" y="407" width="1" height="9" fill="#f00"/>
<rect x="1733" y="433" width="1" height="17" fill="#f00"/>
<rect x="1731" y="416" width="5" height="17" fill="#f00"/>
<rect x="1741" y="411" width="1" height="13" fill="#00f"/>
<rect x="1739" y="424" width="5" height="14" fill="#00f"/>
<rect x="1749" y="419" width="1" height="5" fill="#f00"/>
<rect x="1749" y="434" width="1" height="11" fill="#f00"/>
<rect x="1747" y="424" width="5" height="10" fill="#f00"/>
<rect x="1757" y="428" width="1" height="4" fill="#f00"/>
<rect x="1757" y="471" width="1" height="13" fill="#f00"/>
<rect x="1755" y="432" width="5" height="39" fill="#f00"/>
<rect x="1765" y="433" width="1" height="8" fill="#00f"/>
<rect x="1765" y="471" width="1" height="32" fill="#00f"/>
<rect x="1763" y="441" width="5" height="30" fill="#00f"/>
<rect x="1773" y="435" width="1" height="6" fill="#f00"/>
<rect x="1773" y="498" width="1" height="16" fill="#f00"/>
<rect x="1771" y="441" width="5" height="57" fill="#f00"/>
<rect x="1781" y="481" width="1" height="1" fill="#00f"/>
<rect x="1781" y="498" width="1" height="24" fill="#00f"/>
<rect x="1779" y="482" width="5" height="16" fill="#00f"/>
<rect x="1789" y="475" width="1" height="7" fill="#f00"/>
<rect x="1789" y="488" width="1" height="10" fill="#f00"/>
<rect x="1787" y="482" width="5" height="6" fill="#f00"/>
<rect x="1797" y="472" width="1" height="2" fill="#00f"/>
<rect x="1795" y="474" width="5" height="14" fill="#00f"/>
<rect x="1805" y="393" width="1" height="11" fill="#00f"/>
<rect x="1805" y="475" width="1" height="2" fill="#00f"/>
<rect x="1803" y="404" width="5" height="71" fill="#00f"/>
<rect x="1813" y="364" width="1" height="36" fill="#00f"/>
<rect x="1813" y="405" width="1" height="6" fill="#00f"/>
<rect x="1811" y="400" width="5" height="5" fill="#00f"/>
<rect x="1821" y="342" width="1" height="8" fill="#00f"/>
<rect x="1821" y="401" width="1" height="16" fill="#00f"/>
<rect x="1819" y="350" width="5" height="51" fill="#00f"/>
<rect x="1829" y="329" width="1" height="21" fill="#f00"/>
<rect x="1829" y="362" width="1" height="7" fill="#f00"/>
<rect x="1827" y="350" width="5" height="12" fill="#f00"/>
<rect x="1837" y="319" width="1" height="32" fill="#00f"/>
<rect x="1835" y="351" width="5" height="11" fill="#00f"/>
<rect x="1845" y="325" width="1" height="3" fill="#00f"/>
<rect x="1845" y="350" width="1" height="5" fill="#00f"/>
<rect x="1843" y="328" width="5" height="22" fill="#00f"/>
<rect x="1853" y="317" width="1" height="12" fill="#f00"/>
<rect x="1853" y="350" width="1" height="16" fill="#f00"/>
<rect x="1851" y="329" width="5" height="21" fill="#f00"/>
<rect x="1861" y="247" width="1" height="23" fill="#00f"/>
<rect x="1861" y="350" width="1" height="5" fill="#00f"/>
<rect x="1859" y="270" width="5" height="80" fill="#00f"/>
<rect x="1869" y="257" width="1" height="13" fill="#f00"/>
<rect x="1869" y="344" width="1" height="49" fill="#f00"/>
<rect x="1867" y="270" width="5" height="74" fill="#f00"/>
<rect x="1877" y="344" width="1" height="6" fill="#00f"/>
<rect x="1875" y="328" width="5" height="16" fill="#00f"/>
<rect x="1885" y="316" width="1" height="12" fill="#f00"/>
<rect x="1885" y="330" width="1" height="40" fill="#f00"/>
<rect x="1883" y="328" width="5" height="2" fill="#f00"/>
<rect x="1893" y="311" width="1" height="18" fill="#f00"/>
<rect x="1893" y="331" width="1" height="6" fill="#f00"/>
<rect x="1891" y="329" width="5" height="2" fill="#f00"/>
<rect x="1901" y="264" width="1" height="1" fill="#00f"/>
<rect x="1901" y="331" width="1" height="12" fill="#00f"/>
<rect x="1899" y="265" width="5" height="66" fill="#00f"/>
<rect x="1909" y="263" width="1" height="2" fill="#f00"/>
<rect x="1909" y="331" width="1" height="3" fill="#f00"/>
<rect x="1907" y="265" width="5" height="66" fill="#f00"/>
<rect x="1917" y="253" width="1" height="49" fill="#00f"/>
<rect x="1917" y="331" width="1" height="9" fill="#00f"/>
<rect x="1915" y="302" width="5" height="29" fill="#00f"/>
<rect x="1925" y="269" width="1" height="5" fill="#00f"/>
<rect x="1925" y="302" width="1" height="16" fill="#00f"/>
<rect x="1923" y="274" width="5" height="28" fill="#00f"/>
<rect x="1933" y="310" width="1" height="42" fill="#f00"/>
<rect x="1931" y="277" width="5" height="33" fill="#f00"/>
<rect x="1941" y="278" width="1" height="31" fill="#00f"/>
<rect x="1941" y="310" width="1" height="7" fill="#00f"/>
<rect x="1939" y="309" width="5" height="1" fill="#00f"/>
<rect x="1949" y="304" width="1" height="6" fill="#f00"/>
<rect x="1949" y="359" width="1" height="19" fill="#f00"/>
<rect x="1947" y="310" width="5" height="49" fill="#f00"/>
<rect x="1957" y="343" width="1" height="17" fill="#f00"/>
<rect x="1957" y="390" width="1" height="12" fill="#f00"/>
<rect x="1955" y="360" width="5" height="30" fill="#f00"/>
<rect x="1965" y="377" width="1" height="14" fill="#f00"/>
<rect x="1965" y="500" width="1" height="10" fill="#f00"/>
<rect x="1963" y="391" width="5" height="109" fill="#f00"/>
<rect x="1973" y="484" width="1" height="16" fill="#f00"/>
<rect x="1973" y="520" width="1" height="5" fill="#f00"/>
<rect x="1971" y="500" width="5" height="20" fill="#f00"/>
<rect x="1981" y="492" width="1" height="20" fill="#f00"/>
<rect x="1981" y="556" width="1" height="22" fill="#f00"/>
<rect x="1979" y="512" width="5" height="44" fill="#f00"/>
<rect x="1989" y="510" width="1" height="30" fill="#00f"/>
<rect x="1989" y="556" width="1" height="6" fill="#00f"/>
<rect x="1987" y="540" width="5" height="16" fill="#00f"/>
<rect x="1997" y="467" width="1" height="73" fill="#f00"/>
<rect x="1995" y="540" width="5" height="10" fill="#f00"/>
<rect x="2005" y="480" width="1" height="32" fill="#00f"/>
<rect x="2005" y="550" width="1" height="20" fill="#00f"/>
<rect x="2003" y="512" width="5" height="38" fill="#00f"/>
<rect x="2013" y="487" width="1" height="24" fill="#f00"/>
<rect x="2013" y="570" width="1" height="55" fill="#f00"/>
<rect x="2011" y="511" width="5" height="59" fill="#f00"/>
<rect x="2021" y="568" width="1" height="2" fill="#f00"/>
<rect x="2021" y="609" width="1" height="9" fill="#f00"/>
<rect x="2019" y="570" width="5" height="39" fill="#f00"/>
<rect x="2029" y="557" width="1" height="1" fill="#00f"/>
<rect x="2029" y="621" width="1" height="25" fill="#00f"/>
<rect x="2027" y="558" width="5" height="63" fill="#00f"/>
<rect x="2037" y="513" width="1" height="20" fill="#00f"/>
<rect x="2037" y="560" width="1" height="7" fill="#00f"/>
<rect x="2035" y="533" width="5" height="27" fill="#00f"/>
<rect x="2045" y="491" width="1" height="10" fill="#00f"/>
<rect x="2045" y="535" width="1" height="13" fill="#00f"/>
<rect x="2043" y="501" width="5" height="34" fill="#00f"/>
<rect x="2053" y="427" width="1" height="23" fill="#00f"/>
<rect x="2053" y="501" width="1" height="36" fill="#00f"/>
<rect x="2051" y="450" width="5" height="51" fill="#00f"/>
<rect x="2061" y="399" width="1" height="27" fill="#00f"/>
<rect x="2061" y="450" width="1" height="26" fill="#00f"/>
<rect x="2059" y="426" width="5" height="24" fill="#00f"/>
<rect x="2069" y="417" width="1" height="7" fill="#00f"/>
<rect x="2069" y="426" width="1" height="18" fill="#00f"/>
<rect x="2067" y="424" width="5" height="2" fill="#00f"/>
<rect x="2077" y="405" width="1" height="20" fill="#f00"/>
<rect x="2077" y="438" width="1" height="10" fill="#f00"/>
<rect x="2075" y="425" width="5" height="13" fill="#f00"/>
<rect x="2085" y="460" width="1" height="28" fill="#f00"/>
<rect x="2083" y="437" width="5" height="23" fill="#f00"/>
<rect x="2093" y="451" width="1" height="9" fill="#f00"/>
<rect x="2093" y="474" width="1" height="38" fill="#f00"/>
<rect x="2091" y="460" width="5" height="14" fill="#f00"/>
<rect x="2101" y="405" width="1" height="13" fill="#00f"/>
<rect x="2101" y="475" width="1" height="13" fill="#00f"/>
<rect x="2099" y="418" width="5" height="57" fill="#00f"/>
<rect x="2109" y="372" width="1" height="46" fill="#f00"/>
<rect x="2109" y="428" width="1" height="7" fill="#f00"/>
<rect x="2107" y="418" width="5" height="10" fill="#f00"/>
<rect x="2117" y="384" width="1" height="10" fill="#00f"/>
<rect x="2117" y="427" width="1" height="13" fill="#00f"/>
<rect x="2115" y="394" width="5" height="33" fill="#00f"/>
<rect x="2125" y="349" width="1" height="27" fill="#00f"/>
<rect x="2125" y="395" width="1" height="5" fill="#00f"/>
<rect x="2123" y="376" width="5" height="19" fill="#00f"/>
<rect x="2133" y="350" width="1" height="16" fill="#00f"/>
<rect x="2133" y="376" width="1" height="8" fill="#00f"/>
<rect x="2131" y="366" width="5" height="10" fill="#00f"/>
<rect x="2141" y="368" width="1" height="37" fill="#00f"/>
<rect x="2139" y="361" width="5" height="7" fill="#00f"/>
<rect x="2149" y="310" width="1" height="29" fill="#00f"/>
<rect x="2149" y="361" width="1" height="7" fill="#00f"/>
<rect x="2147" y="339" width="5" height="22" fill="#00f"/>
<rect x="2157" y="275" width="1" height="14" fill="#00f"/>
<rect x="2157" y="340" width="1" height="4" fill="#00f"/>
<rect x="2155" y="289" width="5" height="51" fill="#00f"/>
<rect x="2165" y="274" width="1" height="15" fill="#f00"/>
<rect x="2165" y="294" width="1" height="7" fill="#f00"/>
<rect x="2163" y="289" width="5" height="5" fill="#f00"/>
<rect x="2173" y="246" width="1" height="17" fill="#00f"/>
<rect x="2173" y="272" width="1" height="13" fill="#00f"/>
<rect x="2171" y="263" width="5" height="9" fill="#00f"/>
<polyline points="5.5,224.5 13.5,255.0 21.5,273.9 29.5,275.6 37.5,292.1 45.5,295.5 53.5,296.6 61.5,317.1 69.5,330.3 77.5,356.3 85.5,384.7 93.5,410.9 101.5,431.3 109.5,472.8 117.5,501.7 125.5,535.1 133.5,570.3 141.5,591.6 149.5,616.5 157.5,628.7 165.5,632.8 173.5,637.7 181.5,643.1 189.5,655.2 197.5,667.6 205.5,673.2 213.5,674.4 221.5,662.9 229.5,637.9 237.5,610.9 245.5,586.0 253.5,555.7 261.5,531.5 269.5,516.9 277.5,512.9 285.5,501.5 293.5,487.2 301.5,463.4 309.5,441.8 317.5,421.5 325.5,395.5 333.5,371.7 341.5,342.6 349.5,307.7 357.5,278.2 365.5,283.1 373.5,281.8 381.5,276.1 389.5,276.9 397.5,271.4 405.5,264.5 413.5,254.7 421.5,231.9 429.5,213.1 437.5,194.8 445.5,170.8 453.5,157.6 461.5,148.1 469.5,149.5 477.5,148.0 485.5,159.4 493.5,164.7 501.5,167.2 509.5,177.4 517.5,189.4 525.5,184.7 533.5,180.3 541.5,190.7 549.5,204.7 557.5,216.3 565.5,250.0 573.5,271.1 581.5,304.3 589.5,324.2 597.5,336.2 605.5,341.7 613.5,374.4 621.5,382.4 629.5,385.3 637.5,390.1 645.5,392.0 653.5,387.9 661.5,372.9 669.5,367.2 677.5,361.4 685.5,380.2 693.5,400.2 701.5,422.1 709.5,424.5 717.5,438.0 725.5,454.1 733.5,473.2 741.5,496.0 749.5,505.0 757.5,512.4 765.5,526.6 773.5,536.7 781.5,550.0 789.5,553.3 797.5,563.6 805.5,545.7 813.5,537.5 821.5,523.0 829.5,504.5 837.5,491.1 845.5,484.0 853.5,477.2 861.5,477.6 869.5,488.0 877.5,494.6 885.5,496.8 893.5,491.1 901.5,498.1 909.5,529.4 917.5,553.6 925.5,570.0 933.5,583.5 941.5,597.3 949.5,608.6 957.5,627.5 965.5,633.9 973.5,642.2 981.5,650.2 989.5,654.3 997.5,659.8 1005.5,661.2 1013.5,657.6 1021.5,665.0 1029.5,669.5 1037.5,676.8 1045.5,690.7 1053.5,702.7 1061.5,707.2 1069.5,707.8 1077.5,703.9 1085.5,697.3 1093.5,677.9 1101.5,658.2 1109.5,639.1 1117.5,623.2 1125.5,611.4 1133.5,601.1 1141.5,587.2 1149.5,564.0 1157.5,545.3 1165.5,534.6 1173.5,527.3 1181.5,519.9 1189.5,516.0 1197.5,494.5 1205.5,475.9 1213.5,451.9 1221.5,439.6 1229.5,431.2 1237.5,414.9 1245.5,396.7 1253.5,391.0 1261.5,382.9 1269.5,378.6 1277.5,381.2 1285.5,396.9 1293.5,414.4 1301.5,431.0 1309.5,444.9 1317.5,453.0 1325.5,459.8 1333.5,465.2 1341.5,471.3 1349.5,477.5 1357.5,479.0 1365.5,477.1 1373.5,478.0 1381.5,470.3 1389.5,473.6 1397.5,470.5 1405.5,473.8 1413.5,478.3 1421.5,485.2 1429.5,488.5 1437.5,493.1 1445.5,499.9 1453.5,518.5 1461.5,535.6 1469.5,556.1 1477.5,577.5 1485.5,593.7 1493.5,598.9 1501.5,601.6 1509.5,600.8 1517.5,609.1 1525.5,605.7 1533.5,588.1 1541.5,576.9 1549.5,563.2 1557.5,555.6 1565.5,546.8 1573.5,551.3 1581.5,544.5 1589.5,539.9 1597.5,540.0 1605.5,544.8 1613.5,539.3 1621.5,533.5 1629.5,517.2 1637.5,501.2 1645.5,490.4 1653.5,474.4 1661.5,457.3 1669.5,442.8 1677.5,437.8 1685.5,442.0 1693.5,447.5 1701.5,451.3 1709.5,467.2 1717.5,482.5 1725.5,470.3 1733.5,463.6 1741.5,456.5 1749.5,452.5 1757.5,456.0 1765.5,453.3 1773.5,461.5 1781.5,465.4 1789.5,469.6 1797.5,470.5 1805.5,458.5 1813.5,447.9 1821.5,430.2 1829.5,417.9 1837.5,405.8 1845.5,391.8 1853.5,384.3 1861.5,363.6 1869.5,360.1 1877.5,354.4 1885.5,350.0 1893.5,346.7 1901.5,331.9 1909.5,331.8 1917.5,326.5 1925.5,317.0 1933.5,315.9 1941.5,314.7 1949.5,322.8 1957.5,335.1 1965.5,365.2 1973.5,393.4 1981.5,423.1 1989.5,444.4 1997.5,463.7 2005.5,472.6 2013.5,490.4 2021.5,512.0 2029.5,520.5 2037.5,522.9 2045.5,519.0 2053.5,506.5 2061.5,492.0 2069.5,479.7 2077.5,472.2 2085.5,470.1 2093.5,470.9 2101.5,461.4 2109.5,455.4 2117.5,444.3 2125.5,432.0 2133.5,420.1 2141.5,409.4 2149.5,396.7 2157.5,377.2 2165.5,362.2 2173.5,344.2" fill="none" stroke="#000" stroke-width="1"/>
<polyline points="5.5,933.8 13.5,932.9 21.5,928.9 29.5,920.4 37.5,927.1 45.5,920.8 53.5,919.8 61.5,928.9 69.5,926.4 77.5,933.1 85.5,936.1 93.5,937.3 101.5,936.5 109.5,946.6 117.5,942.2 125.5,946.1 133.5,949.0 141.5,942.2 149.5,945.3 157.5,937.8 165.5,932.6 173.5,933.4 181.5,934.2 189.5,938.5 197.5,939.9 205.5,934.8 213.5,930.9 221.5,918.0 229.5,904.5 237.5,899.4 245.5,897.2 253.5,890.1 261.5,890.7 269.5,896.4 277.5,904.3 285.5,897.5 293.5,893.3 301.5,884.5 309.5,883.0 317.5,881.2 325.5,874.9 333.5,873.3 341.5,867.5 349.5,861.8 357.5,861.3 365.5,896.2 373.5,892.3 381.5,889.1 389.5,894.8 397.5,890.2 405.5,888.4 413.5,885.3 421.5,875.5 429.5,875.4 437.5,873.5 445.5,868.0 453.5,877.1 461.5,878.9 469.5,890.9 477.5,888.7 485.5,903.6 493.5,899.8 501.5,898.0 509.5,907.5 517.5,911.4 525.5,896.7 533.5,896.2 541.5,911.5 549.5,916.7 557.5,916.9 565.5,936.3 573.5,928.9 581.5,939.1 589.5,931.1 597.5,926.6 605.5,922.0 613.5,939.9 621.5,922.7 629.5,919.7 637.5,921.3 645.5,919.4 653.5,914.2 661.5,904.3 669.5,909.9 677.5,908.9 685.5,926.6 693.5,929.6 701.5,933.0 709.5,918.2 717.5,925.8 725.5,929.0 733.5,932.7 741.5,936.9 749.5,927.0 757.5,927.0 765.5,932.6 773.5,930.9 781.5,934.3 789.5,925.6 797.5,931.2 805.5,906.1 813.5,911.2 821.5,904.8 829.5,899.8 837.5,901.3 845.5,905.1 853.5,904.1 861.5,910.1 869.5,919.2 877.5,917.2 885.5,913.6 893.5,905.7 901.5,917.1 909.5,935.8 917.5,934.2 925.5,930.3 933.5,930.4 941.5,932.5 949.5,932.5 957.5,939.9 965.5,927.7 973.5,930.3 981.5,931.4 989.5,927.7 997.5,929.8 1005.5,925.1 1013.5,918.1 1021.5,929.0 1029.5,926.6 1037.5,930.3 1045.5,937.8 1053.5,938.3 1061.5,929.2 1069.5,924.2 1077.5,917.2 1085.5,912.0 1093.5,894.2 1101.5,890.2 1109.5,887.2 1117.5,886.8 1125.5,889.1 1133.5,888.2 1141.5,881.7 1149.5,870.2 1157.5,870.9 1165.5,880.2 1173.5,883.1 1181.5,881.4 1189.5,886.1 1197.5,867.5 1205.5,866.8 1213.5,860.2 1221.5,874.7 1229.5,877.7 1237.5,869.7 1245.5,866.0 1253.5,882.3 1261.5,879.2 1269.5,883.2 1277.5,893.0 1285.5,911.2 1293.5,916.5 1301.5,919.0 1309.5,919.4 1317.5,914.5 1325.5,914.7 1333.5,914.5 1341.5,916.9 1349.5,918.9 1357.5,912.0 1365.5,906.4 1373.5,911.1 1381.5,896.7 1389.5,912.9 1397.5,904.0 1405.5,912.7 1413.5,915.3 1421.5,919.9 1429.5,915.8 1437.5,918.5 1445.5,923.1 1453.5,939.0 1461.5,940.9 1469.5,947.1 1477.5,951.0 1485.5,948.2 1493.5,931.7 1501.5,928.6 1509.5,923.1 1517.5,933.9 1525.5,916.7 1533.5,897.8 1541.5,902.1 1549.5,897.0 1557.5,902.1 1565.5,899.0 1573.5,914.3 1581.5,901.7 1589.5,903.1 1597.5,908.0 1605.5,913.9 1613.5,902.2 1621.5,900.7 1629.5,888.5 1637.5,886.1 1645.5,889.5 1653.5,882.6 1661.5,879.0 1669.5,878.5 1677.5,890.3 1685.5,902.4 1693.5,905.5 1701.5,904.5 1709.5,920.9 1717.5,923.6 1725.5,894.4 1733.5,898.4 1741.5,896.7 1749.5,899.1 1757.5,907.7 1765.5,901.4 1773.5,913.7 1781.5,910.2 1789.5,911.5 1797.5,908.1 1805.5,893.6 1813.5,892.9 1821.5,884.0 1829.5,887.4 1837.5,885.4 1845.5,881.3 1853.5,888.1 1861.5,874.9 1869.5,894.3 1877.5,891.6 1885.5,892.1 1893.5,892.3 1901.5,880.8 1909.5,897.6 1917.5,892.5 1925.5,887.8 1933.5,896.6 1941.5,896.4 1949.5,908.1 1957.5,914.5 1965.5,932.7 1973.5,935.4 1981.5,940.1 1989.5,936.0 1997.5,937.4 2005.5,927.5 2013.5,936.3 2021.5,941.4 2029.5,928.9 2037.5,923.2 2045.5,916.2 2053.5,906.2 2061.5,901.8 2069.5,901.4 2077.5,904.6 2085.5,909.5 2093.5,912.6 2101.5,900.3 2109.5,902.7 2117.5,895.7 2125.5,892.2 2133.5,890.3 2141.5,889.3 2149.5,884.8 2157.5,875.9 2165.5,877.6 2173.5,872.4" fill="none" stroke="#1e90ff" stroke-width="2" stroke-linejoin="round"/>
<rect x="2739" y="258" width="41" height="11" fill="#000"/>
</svg>
<div class="tri"></div>
<div class="t" style="left:2743px;top:17.71px;font-size:9.5px;letter-spacing:0px;">119.450</div><div class="t" style="left:2743px;top:50.71px;font-size:9.5px;letter-spacing:0px;">118.340</div><div class="t" style="left:2743px;top:83.71px;font-size:9.5px;letter-spacing:0px;">117.230</div><div class="t" style="left:2743px;top:116.71px;font-size:9.5px;letter-spacing:0px;">116.120</div><div class="t" style="left:2743px;top:149.71px;font-size:9.5px;letter-spacing:0px;">115.010</div><div class="t" style="left:2743px;top:182.71px;font-size:9.5px;letter-spacing:0px;">113.930</div><div class="t" style="left:2743px;top:215.71px;font-size:9.5px;letter-spacing:0px;">112.820</div><div class="t" style="left:2743px;top:248.71px;font-size:9.5px;letter-spacing:0px;">111.710</div><div class="t" style="left:2743px;top:281.71px;font-size:9.5px;letter-spacing:0px;">110.600</div><div class="t" style="left:2743px;top:314.71px;font-size:9.5px;letter-spacing:0px;">109.490</div><div class="t" style="left:2743px;top:347.71px;font-size:9.5px;letter-spacing:0px;">108.380</div><div class="t" style="left:2743px;top:380.71px;font-size:9.5px;letter-spacing:0px;">107.300</div><div class="t" style="left:2743px;top:413.71px;font-size:9.5px;letter-spacing:0px;">106.190</div><div class="t" style="left:2743px;top:446.71px;font-size:9.5px;letter-spacing:0px;">105.080</div><div class="t" style="left:2743px;top:479.71px;font-size:9.5px;letter-spacing:0px;">103.970</div><div class="t" style="left:2743px;top:512.71px;font-size:9.5px;letter-spacing:0px;">102.860</div><div class="t" style="left:2743px;top:545.71px;font-size:9.5px;letter-spacing:0px;">101.750</div><div class="t" style="left:2743px;top:578.71px;font-size:9.5px;letter-spacing:0px;">100.670</div><div class="t" style="left:2743px;top:611.71px;font-size:9.5px;letter-spacing:0px;">99.560</div><div class="t" style="left:2743px;top:644.71px;font-size:9.5px;letter-spacing:0px;">98.450</div><div class="t" style="left:2743px;top:677.71px;font-size:9.5px;letter-spacing:0px;">97.340</div><div class="t" style="left:2743px;top:710.71px;font-size:9.5px;letter-spacing:0px;">96.230</div><div class="t" style="left:2743px;top:743.71px;font-size:9.5px;letter-spacing:0px;">95.120</div><div class="t" style="left:2743px;top:776.71px;font-size:9.5px;letter-spacing:0px;">94.040</div><div class="t" style="left:2743px;top:809.71px;font-size:9.5px;letter-spacing:0px;">92.930</div><div class="t" style="left:2743px;top:263.71px;font-size:9.5px;letter-spacing:0px;color:#fff;">111.197</div><div class="t" style="left:4px;top:1011.71px;font-size:9.5px;letter-spacing:-0.1px;">10 Mar 2022</div><div class="t" style="left:68px;top:1011.71px;font-size:9.5px;letter-spacing:-0.1px;">14 Mar 05:00</div><div class="t" style="left:132px;top:1011.71px;font-size:9.5px;letter-spacing:-0.1px;">15 Mar 13:00</div><div class="t" style="left:196px;top:1011.71px;font-size:9.5px;letter-spacing:-0.1px;">16 Mar 21:00</div><div class="t" style="left:260px;top:1011.71px;font-size:9.5px;letter-spacing:-0.1px;">18 Mar 05:00</div><div class="t" style="left:324px;top:1011.71px;font-size:9.5px;letter-spacing:-0.1px;">21 Mar 13:00</div><div class="t" style="left:388px;top:1011.71px;font-size:9.5px;letter-spacing:-0.1px;">22 Mar 21:00</div><div class="t" style="left:452px;top:1011.71px;font-size:9.5px;letter-spacing:-0.1px;">24 Mar 05:00</div><div class="t" style="left:516px;top:1011.71px;font-size:9.5px;letter-spacing:-0.1px;">25 Mar 13:00</div><div class="t" style="left:580px;top:1011.71px;font-size:9.5px;letter-spacing:-0.1px;">28 Mar 21:00</div><div class="t" style="left:644px;top:1011.71px;font-size:9.5px;letter-spacing:-0.1px;">30 Mar 05:00</div><div class="t" style="left:708px;top:1011.71px;font-size:9.5px;letter-spacing:-0.1px;">31 Mar 13:00</div><div class="t" style="left:772px;top:1011.71px;font-size:9.5px;letter-spacing:-0.1px;">1 Apr 21:00</div><div class="t" style="left:836px;top:1011.71px;font-size:9.5px;letter-spacing:-0.1px;">5 Apr 05:00</div><div class="t" style="left:900px;top:1011.71px;font-size:9.5px;letter-spacing:-0.1px;">6 Apr 13:00</div><div class="t" style="left:964px;top:1011.71px;font-size:9.5px;letter-spacing:-0.1px;">7 Apr 21:00</div><div class="t" style="left:1028px;top:1011.71px;font-size:9.5px;letter-spacing:-0.1px;">11 Apr 05:00</div><div class="t" style="left:1092px;top:1011.71px;font-size:9.5px;letter-spacing:-0.1px;">12 Apr 13:00</div><div class="t" style="left:1156px;top:1011.71px;font-size:9.5px;letter-spacing:-0.1px;">13 Apr 21:00</div><div class="t" style="left:1220px;top:1011.71px;font-size:9.5px;letter-spacing:-0.1px;">18 Apr 05:00</div><div class="t" style="left:1284px;top:1011.71px;font-size:9.5px;letter-spacing:-0.1px;">19 Apr 13:00</div><div class="t" style="left:1348px;top:1011.71px;font-size:9.5px;letter-spacing:-0.1px;">20 Apr 21:00</div><div class="t" style="left:1412px;top:1011.71px;font-size:9.5px;letter-spacing:-0.1px;">22 Apr 05:00</div><div class="t" style="left:1476px;top:1011.71px;font-size:9.5px;letter-spacing:-0.1px;">25 Apr 13:00</div><div class="t" style="left:1540px;top:1011.71px;font-size:9.5px;letter-spacing:-0.1px;">26 Apr 21:00</div><div class="t" style="left:1604px;top:1011.71px;font-size:9.5px;letter-spacing:-0.1px;">28 Apr 05:00</div><div class="t" style="left:1668px;top:1011.71px;font-size:9.5px;letter-spacing:-0.1px;">29 Apr 13:00</div><div class="t" style="left:1732px;top:1011.71px;font-size:9.5px;letter-spacing:-0.1px;">2 May 21:00</div><div class="t" style="left:1796px;top:1011.71px;font-size:9.5px;letter-spacing:-0.1px;">4 May 05:00</div><div class="t" style="left:1860px;top:1011.71px;font-size:9.5px;letter-spacing:-0.1px;">5 May 13:00</div><div class="t" style="left:1924px;top:1011.71px;font-size:9.5px;letter-spacing:-0.1px;">6 May 21:00</div><div class="t" style="left:1988px;top:1011.71px;font-size:9.5px;letter-spacing:-0.1px;">10 May 05:00</div><div class="t" style="left:2052px;top:1011.71px;font-size:9.5px;letter-spacing:-0.1px;">11 May 13:00</div><div class="t" style="left:2116px;top:1011.71px;font-size:9.5px;letter-spacing:-0.1px;">12 May 21:00</div><div class="t" style="left:20px;top:12.71px;font-size:9.5px;letter-spacing:0px;">SpotCrude,H4&nbsp;&nbsp;110.953 111.731 110.516 111.197</div><div class="t" style="left:8px;top:823.71px;font-size:9.5px;letter-spacing:-0.1px;">RSI(14) 69.4871</div><div class="t" style="left:2741px;top:821.71px;font-size:9.5px;letter-spacing:-0.3px;">100</div><div class="t" style="left:2740px;top:871.71px;font-size:9.5px;letter-spacing:-0.3px;">70</div><div class="t" style="left:2740px;top:946.71px;font-size:9.5px;letter-spacing:-0.3px;">30</div><div class="t" style="left:2741px;top:995.71px;font-size:9.5px;letter-spacing:-0.3px;">0</div>
</body></html>
